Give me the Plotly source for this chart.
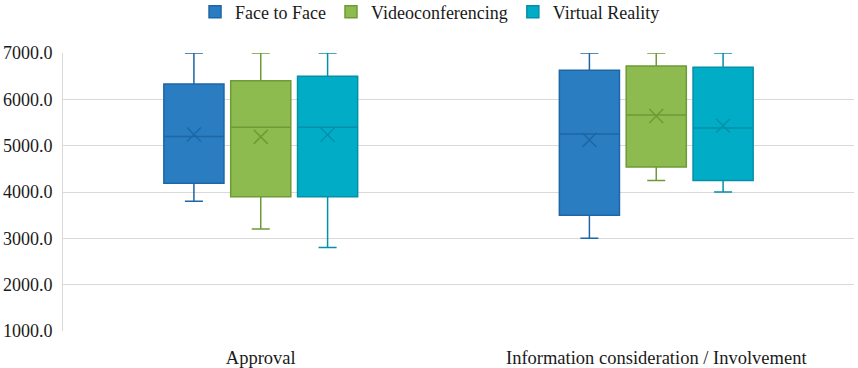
import plotly.graph_objects as go

categories = ["Approval", "Information consideration / Involvement"]
series = ["Face to Face", "Videoconferencing", "Virtual Reality"]

# per series: values for [Approval, Information consideration]
lower = {"Face to Face": [3800, 3000], "Videoconferencing": [3200, 4250], "Virtual Reality": [2800, 4000]}
q1 = {"Face to Face": [4190, 3500], "Videoconferencing": [3900, 4540], "Virtual Reality": [3900, 4250]}
median = {"Face to Face": [5200, 5250], "Videoconferencing": [5400, 5660], "Virtual Reality": [5400, 5380]}
q3 = {"Face to Face": [6330, 6630], "Videoconferencing": [6400, 6720], "Virtual Reality": [6500, 6690]}
upper = {"Face to Face": [7000, 7000], "Videoconferencing": [7000, 7000], "Virtual Reality": [7000, 7000]}
mean = {"Face to Face": [5240, 5125], "Videoconferencing": [5190, 5640], "Virtual Reality": [5235, 5430]}

fills = {"Face to Face": "#2A7DC1", "Videoconferencing": "#8DBB50", "Virtual Reality": "#01ADC6"}
lines = {"Face to Face": "#1D67A6", "Videoconferencing": "#6E9B36", "Virtual Reality": "#0590A8"}

spacing = 0.169
box_w = 0.152

fig = go.Figure()
for j, s in enumerate(series):
    xs = [i + (j - 1) * spacing for i in range(len(categories))]
    fig.add_trace(go.Box(
        name=s, x=xs,
        q1=q1[s], median=median[s], q3=q3[s],
        lowerfence=lower[s], upperfence=upper[s],
        width=box_w, whiskerwidth=0.3,
        fillcolor=fills[s], line=dict(color=lines[s], width=1.5),
        boxpoints=False, legendgroup=s,
    ))
    fig.add_trace(go.Scatter(
        x=xs, y=mean[s], mode="markers", showlegend=False, legendgroup=s,
        marker=dict(symbol="x-thin", size=14, line=dict(color=lines[s], width=1.5)),
        hoverinfo="skip",
    ))

fig.update_layout(
    width=858, height=368,
    margin=dict(l=63, r=4, t=53, b=37, autoexpand=False),
    paper_bgcolor="white", plot_bgcolor="white",
    font=dict(family="Liberation Serif", size=18, color="#1a1a1a"),
    legend=dict(orientation="h", x=0.464, xanchor="center", y=0.967, yanchor="middle",
                yref="container", font=dict(size=18), itemwidth=30),
    xaxis=dict(range=[-0.5, 1.5], tickmode="array", tickvals=list(range(len(categories))),
               ticktext=categories, showgrid=False, zeroline=False,
               showline=False, ticks="", tickfont=dict(size=18.5), ticklabelstandoff=13),
    yaxis=dict(range=[1000, 7000], dtick=1000, tickformat=".1f", showgrid=True,
               gridcolor="#D9D9D9", gridwidth=1, zeroline=False,
               showline=True, linecolor="#D9D9D9", linewidth=1,
               ticks="", tickfont=dict(size=18), ticklabelstandoff=6),
    showlegend=True,
)

fig.write_html("out.html", config={"displayModeBar": False},
               post_script="document.body.style.margin='0';")
